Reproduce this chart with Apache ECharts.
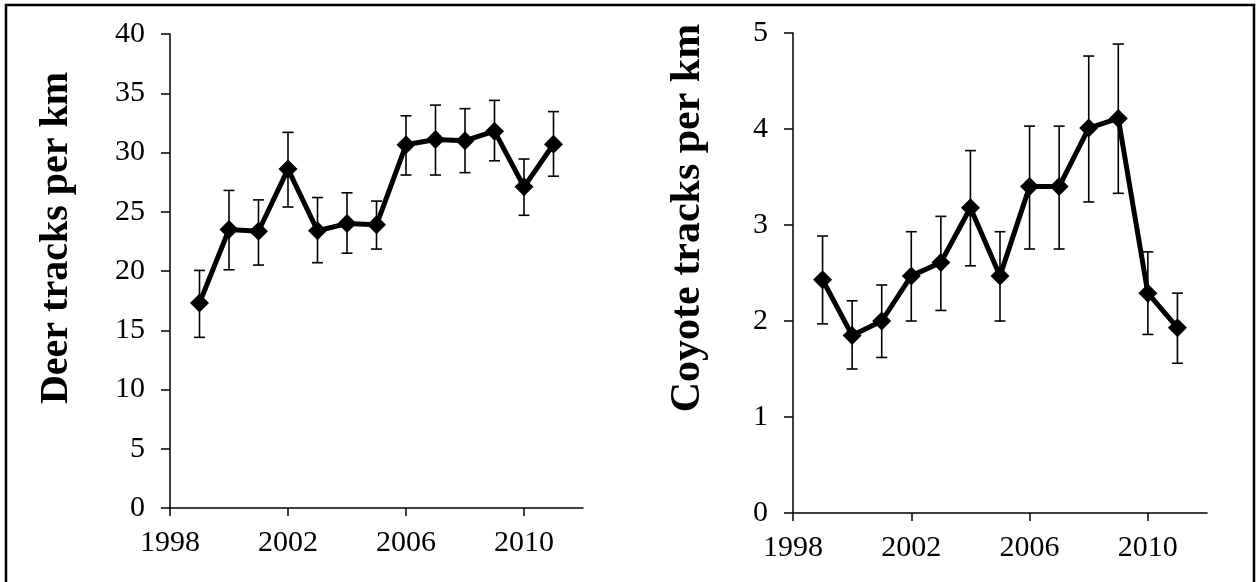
<!DOCTYPE html>
<html>
<head>
<meta charset="utf-8">
<script src="https://cdn.jsdelivr.net/npm/echarts@6/dist/echarts.min.js"></script>
<style>
html,body{margin:0;padding:0;background:#fff;}
#chart{width:1257px;height:582px;}
</style>
</head>
<body>
<div id="chart"></div>
<script>
// ---- data ----
const years = [1999, 2000, 2001, 2002, 2003, 2004, 2005, 2006, 2007, 2008, 2009, 2010, 2011];
const deerMean  = [17.3, 23.5, 23.35, 28.6, 23.4, 24.0, 23.9, 30.65, 31.1, 31.0, 31.8, 27.1, 30.7];
const deerUpper = [20.05, 26.8, 26.0, 31.7, 26.2, 26.6, 25.9, 33.1, 34.0, 33.7, 34.4, 29.45, 33.45];
const deerLower = [14.4, 20.1, 20.5, 25.4, 20.7, 21.5, 21.85, 28.1, 28.1, 28.3, 29.3, 24.7, 28.0];
const coyoteMean  = [2.43, 1.85, 2.0, 2.47, 2.61, 3.18, 2.47, 3.40, 3.40, 4.01, 4.11, 2.29, 1.93];
const coyoteUpper = [2.885, 2.21, 2.375, 2.93, 3.09, 3.775, 2.93, 4.03, 4.03, 4.76, 4.885, 2.72, 2.29];
const coyoteLower = [1.97, 1.50, 1.62, 2.0, 2.11, 2.575, 2.0, 2.75, 2.75, 3.24, 3.33, 1.86, 1.56];
const xTicks = [1998, 2002, 2006, 2010];
const deerTitle = 'Deer tracks per km';
const coyoteTitle = 'Coyote tracks per km';

const FONT = '"Liberation Serif", "Times New Roman", serif';

function errData(lo, hi) {
  return years.map((y, i) => [y, lo[i], hi[i]]);
}
function renderErr(params, api) {
  const x = api.value(0);
  const p1 = api.coord([x, api.value(1)]);
  const p2 = api.coord([x, api.value(2)]);
  const hw = 5.5;
  const style = { stroke: '#000', lineWidth: 1.6 };
  return {
    type: 'group',
    children: [
      { type: 'line', shape: { x1: p1[0], y1: p1[1], x2: p2[0], y2: p2[1] }, style },
      { type: 'line', shape: { x1: p1[0] - hw, y1: p1[1], x2: p1[0] + hw, y2: p1[1] }, style },
      { type: 'line', shape: { x1: p2[0] - hw, y1: p2[1], x2: p2[0] + hw, y2: p2[1] }, style }
    ]
  };
}

function xAxisCfg(gi) {
  return {
    type: 'value', gridIndex: gi, min: 1998, max: 2012, interval: 4,
    splitLine: { show: false },
    axisLine: { show: true, onZero: false, lineStyle: { color: '#000', width: 1.5 } },
    axisTick: { show: true, length: 8, customValues: xTicks, lineStyle: { color: '#000', width: 1.5 } },
    axisLabel: { customValues: xTicks, formatter: v => String(v), color: '#000', fontFamily: FONT, fontSize: 30, margin: 20 }
  };
}
function yAxisCfg(gi, max, interval) {
  return {
    type: 'value', gridIndex: gi, min: 0, max: max, interval: interval,
    splitLine: { show: false },
    axisLine: { show: true, lineStyle: { color: '#000', width: 1.5 } },
    axisTick: { show: true, length: 9, lineStyle: { color: '#000', width: 1.5 } },
    axisLabel: { formatter: v => String(v), color: '#000', fontFamily: FONT, fontSize: 30, margin: 25 }
  };
}

const chart = echarts.init(document.getElementById('chart'), null, { renderer: 'canvas' });
chart.setOption({
  backgroundColor: '#fff',
  animation: false,
  grid: [
    { left: 170, top: 34, width: 413, height: 474 },
    { left: 793, top: 33, width: 414, height: 480 }
  ],
  xAxis: [xAxisCfg(0), xAxisCfg(1)],
  yAxis: [yAxisCfg(0, 40, 5), yAxisCfg(1, 5, 1)],
  graphic: [
    { type: 'rect', shape: { x: 6, y: 5, width: 1248, height: 590 }, style: { fill: 'none', stroke: '#000', lineWidth: 2.5 }, z: 100 },
    { type: 'text', x: 57, y: 238, rotation: Math.PI / 2,
      style: { text: deerTitle, font: 'bold 40px ' + FONT, fill: '#000', align: 'center', verticalAlign: 'middle' } },
    { type: 'text', x: 688, y: 218, rotation: Math.PI / 2,
      style: { text: coyoteTitle, font: 'bold 42px ' + FONT, fill: '#000', align: 'center', verticalAlign: 'middle' } }
  ],
  series: [
    { type: 'custom', xAxisIndex: 0, yAxisIndex: 0, data: errData(deerLower, deerUpper), renderItem: renderErr, z: 1 },
    { type: 'line', xAxisIndex: 0, yAxisIndex: 0, data: years.map((y, i) => [y, deerMean[i]]),
      symbol: 'diamond', symbolSize: 19, lineStyle: { color: '#000', width: 5 }, itemStyle: { color: '#000' }, z: 2 },
    { type: 'custom', xAxisIndex: 1, yAxisIndex: 1, data: errData(coyoteLower, coyoteUpper), renderItem: renderErr, z: 1 },
    { type: 'line', xAxisIndex: 1, yAxisIndex: 1, data: years.map((y, i) => [y, coyoteMean[i]]),
      symbol: 'diamond', symbolSize: 19, lineStyle: { color: '#000', width: 5 }, itemStyle: { color: '#000' }, z: 2 }
  ]
});
</script>
</body>
</html>
